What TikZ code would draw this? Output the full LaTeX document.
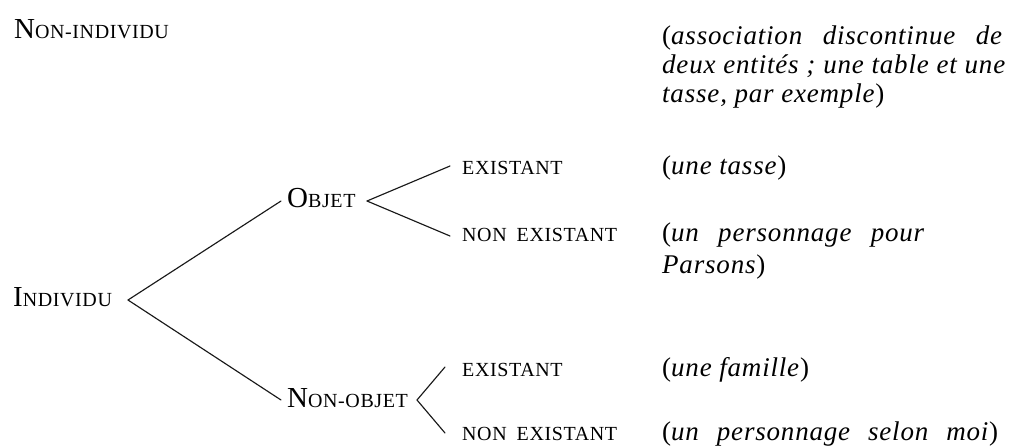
\documentclass[tikz,border=0pt]{standalone}
\usepackage{fontspec}
\setmainfont{Liberation Serif}[LetterSpace=3]
% small capitals: a full capital followed by reduced capitals
\newcommand\initcap[1]{{\fontsize{29}{29}\selectfont #1}}
\newcommand\redcaps[1]{{\fontsize{20}{20}\selectfont #1}}
\begin{document}
\begin{tikzpicture}[x=1pt,y=-1pt,
  lab/.style={anchor=base west,inner sep=0pt,text=black},
  gloss/.style={anchor=base west,inner sep=0pt,text=black,font=\fontsize{27}{29}\selectfont\itshape},
  branch/.style={line width=1.15pt,line cap=round,black!90}]
\useasboundingbox (0,0) rectangle (1014,445);

% category labels
\node[lab] (nind)  at (14,38)   {\initcap{N}\redcaps{ON-INDIVIDU}};
\node[lab] (indiv) at (13,306)  {\initcap{I}\redcaps{NDIVIDU}};
\node[lab] (obj)   at (287,207) {\initcap{O}\redcaps{BJET}};
\node[lab] (nobj)  at (287,407) {\initcap{N}\redcaps{ON-OBJET}};
\node[lab] (ex1)   at (462,174) {\redcaps{EXISTANT}};
\node[lab] (nex1)  at (462,241) {\redcaps{NON\hspace{0.5em}EXISTANT}};
\node[lab] (ex2)   at (462,376) {\redcaps{EXISTANT}};
\node[lab] (nex2)  at (462,440) {\redcaps{NON\hspace{0.5em}EXISTANT}};

% examples
\node[gloss] (g1a) at (662,44)  {\makebox[340pt][s]{\textup{(}association discontinue de}};
\node[gloss] (g1b) at (662,73)  {\makebox[343pt][s]{deux entités ; une table et une}};
\node[gloss] (g1c) at (662,102) {tasse, par exemple\textup{)}};
\node[gloss] (g2)  at (662,174) {\textup{(}une tasse\textup{)}};
\node[gloss] (g3a) at (662,241) {\makebox[262pt][s]{\textup{(}un personnage pour}};
\node[gloss] (g3b) at (662,273) {Parsons\textup{)}};
\node[gloss] (g4)  at (662,376) {\textup{(}une famille\textup{)}};
\node[gloss] (g5)  at (662,440) {\makebox[336pt][s]{\textup{(}un personnage selon moi\textup{)}}};

% fork points
\coordinate (indivfork) at (128,300);
\coordinate (objfork)   at (367,201);
\coordinate (nobjfork)  at (417,400);

% branches
\draw[branch] (indivfork) -- ([xshift=-6pt,yshift=6pt]obj.base west);
\draw[branch] (indivfork) -- ([xshift=-6pt,yshift=7pt]nobj.base west);
\draw[branch] (objfork) -- ([xshift=-12pt,yshift=8pt]ex1.base west);
\draw[branch] (objfork) -- ([xshift=-12pt,yshift=5pt]nex1.base west);
\draw[branch] (nobjfork) -- ([xshift=-17pt,yshift=9pt]ex2.base west);
\draw[branch] (nobjfork) -- ([xshift=-17pt,yshift=7pt]nex2.base west);
\end{tikzpicture}
\end{document}
